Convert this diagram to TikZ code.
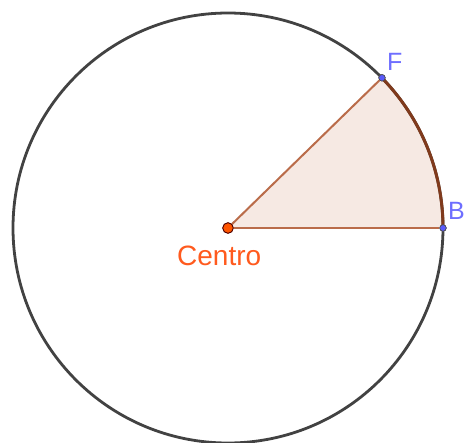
\documentclass[tikz,border=0pt]{standalone}
\usepackage{fontspec}
\setmainfont{Liberation Sans}
\definecolor{circcol}{RGB}{66,66,66}
\definecolor{secfill}{RGB}{246,233,227}
\definecolor{radcol}{RGB}{186,108,74}
\definecolor{arccol}{RGB}{128,58,28}
\definecolor{ptblue}{RGB}{90,90,250}
\definecolor{lblblue}{RGB}{110,110,255}
\definecolor{ptorange}{RGB}{255,85,0}
\definecolor{lblorange}{RGB}{255,90,30}
\tikzset{
  circline/.style={draw=circcol, line width=2.8pt},
  radline/.style={draw=radcol, line width=2pt},
  arcline/.style={draw=arccol, line width=3pt},
  bluept/.style={circle, fill=ptblue, draw=black!70, line width=0.6pt, minimum size=6.5pt, inner sep=0pt},
  centpt/.style={circle, fill=ptorange, draw=black!70!red, line width=0.8pt, minimum size=10.5pt, inner sep=0pt},
  bluelbl/.style={text=lblblue, font=\fontsize{25}{25}\selectfont, inner sep=0pt, anchor=base west},
  orangelbl/.style={text=lblorange, font=\fontsize{28}{28}\selectfont, inner sep=0pt, anchor=base west}
}
\begin{document}
\begin{tikzpicture}[x=1pt,y=-1pt]
\useasboundingbox (0,0) rectangle (468,442);
\coordinate (C) at (228,228);
\fill[secfill] (C) -- (443,228) arc[start angle=0, end angle=-44.3, radius=215] -- cycle;
\draw[circline] (C) circle[radius=215];
\draw[arcline] (443,228) arc[start angle=0, end angle=-44.3, radius=215];
\node[bluept] (B) at (443,228) {};
\node[bluept] (F) at (382,77.8) {};
\node[centpt] (O) at (C) {};
\draw[radline] (O) -- (B);
\draw[radline] (O) -- (F);
\node[bluept] at (B) {};
\node[bluept] at (F) {};
\node[centpt] at (C) {};
\node[bluelbl] (Fl) at (387,70) {F};
\node[bluelbl] (Bl) at (448,219) {B};
\node[orangelbl] (Cl) at (177,265) {Centro};
\end{tikzpicture}
\end{document}
